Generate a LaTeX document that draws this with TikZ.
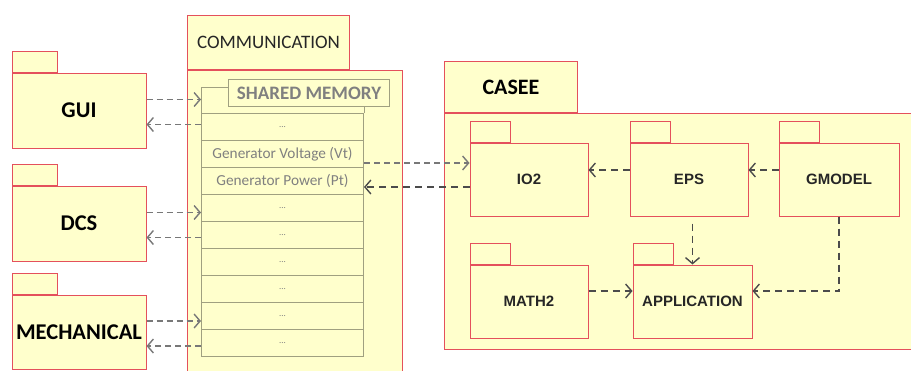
\documentclass[tikz,border=0pt]{standalone}
\usepackage{fontspec}
\usetikzlibrary{arrows.meta, positioning}
\newfontfamily\carlito{Carlito}
\newfontfamily\arialfont{Liberation Sans}
\definecolor{PkgFill}{RGB}{255,255,204}
\definecolor{PkgLine}{RGB}{228,80,92}
\definecolor{RowLine}{RGB}{160,160,128}
\definecolor{RowText}{RGB}{128,128,128}
\definecolor{DepLeft}{RGB}{120,120,120}
\definecolor{DepRight}{RGB}{75,75,75}
\newcommand\memdots{{\fontsize{9}{10}\selectfont\string.\string.\string.}}

\begin{document}
\begin{tikzpicture}[
    x=1pt, y=-1pt,
    pkg/.style={draw=PkgLine, fill=PkgFill, line width=1pt, inner sep=0pt},
    outerpkg/.style={pkg, minimum width=134pt, minimum height=75pt,
                     font=\carlito\bfseries\fontsize{22.5}{26}\selectfont},
    innerpkg/.style={pkg, minimum width=118pt, minimum height=73pt,
                     font=\arialfont\bfseries\fontsize{15}{17}\selectfont, text=black!85},
    pkgtab/.style={pkg, anchor=south west, minimum width=#1, minimum height=21pt},
    pkgtab/.default={40pt},
    memrow/.style={draw=RowLine, line width=1pt, inner sep=0pt, anchor=north west,
                   minimum width=162pt, minimum height=27pt, text=RowText,
                   font=\carlito\fontsize{15.3}{17}\selectfont},
    dep/.style={-{Straight Barb[length=6pt, width=14pt]}, line width=1.4pt,
                dash pattern=on 6pt off 4pt, DepLeft},
    depr/.style={dep, DepRight, dash pattern=on 7pt off 5pt}
]
\clip (0,0) rectangle (911,370);

% Left packages
\node[outerpkg] (gui) at (79,110.5) {GUI};
\node[pkgtab=45pt] (guitab) at (gui.north west) {};
\node[outerpkg, below=37pt of gui] (dcs) {DCS};
\node[pkgtab=45pt] (dcstab) at (dcs.north west) {};
\node[outerpkg, below=33pt of dcs, minimum height=74pt] (mech) {MECHANICAL};
\node[pkgtab=45pt] (mechtab) at (mech.north west) {};

% Communication package
\node[pkg, anchor=north west, minimum width=215pt, minimum height=310pt] (comm) at (187,70) {};
\node[pkgtab=162pt, minimum height=54pt, font=\carlito\fontsize{19}{21}\selectfont, text=black!85]
    (commtab) at (comm.north west) {COMMUNICATION};

% Shared memory
\foreach \t [count=\i] in {\memdots, Generator Voltage (Vt), Generator Power (Pt),
                           \memdots, \memdots, \memdots, \memdots, \memdots, \memdots} {
    \node[memrow] (row\i) at (201,{86+27*\i}) {\t};
}
\node[draw=RowLine, line width=1pt, fill=PkgFill, anchor=north west, inner sep=0pt,
      minimum width=161pt, minimum height=27pt, text=RowText,
      font=\carlito\bfseries\fontsize{19}{21}\selectfont] (shmtitle) at (228,79) {SHARED MEMORY};
\coordinate (shmtop) at (201,87);
\draw[RowLine, line width=1pt] (row1.north west) -- (shmtop) -- (shmtop -| shmtitle.west);
\draw[RowLine, line width=1pt] (shmtitle.south -| row1.east) -- (row1.north east);

% CASEE package
\node[pkg, anchor=north west, minimum width=475pt, minimum height=236pt] (casee) at (444,113) {};
\node[pkgtab=133pt, minimum height=51pt, font=\carlito\bfseries\fontsize{22}{25}\selectfont]
    (caseetab) at (casee.north west) {CASEE};

\node[innerpkg] (io2) at (529,179.5) {IO2};
\node[innerpkg, right=41pt of io2] (eps) {EPS};
\node[innerpkg, right=30pt of eps, minimum width=120pt] (gmodel) {GMODEL};
\node[innerpkg, below=48pt of io2] (math2) {MATH2};
\node[innerpkg, right=44pt of math2, minimum width=119pt] (app) {APPLICATION};
\foreach \n in {io2, eps, gmodel, math2, app} {
    \node[pkgtab=40pt] (\n tab) at (\n.north west) {};
}

% Arrows
\foreach \n in {gui, dcs, mech} {
    \draw[dep] ([yshift=11pt]\n.east) -- ([yshift=11pt]\n.east -| row1.west);
    \draw[dep] ([yshift=-14pt]\n.east -| row1.west) -- ([yshift=-14pt]\n.east);
}
\draw[dep] ([yshift=16.5pt]io2.west -| row1.east) -- ([yshift=16.5pt]io2.west);
\draw[depr] ([yshift=-7.5pt]io2.west) -- ([yshift=-7.5pt]io2.west -| row1.east);
\foreach \a/\b in {eps/io2, gmodel/eps} {
    \draw[depr] ([yshift=9.5pt]\a.west) -- ([yshift=9.5pt]\a.west -| \b.east);
}
\draw[depr] ([yshift=-7pt]app.north |- eps.south) -- (app.north);
\draw[depr] ([yshift=10.5pt]math2.east) -- ([yshift=10.5pt]math2.east -| app.west);
\draw[depr] (gmodel.south) |- ([yshift=10.5pt]app.east);

\end{tikzpicture}
\end{document}
